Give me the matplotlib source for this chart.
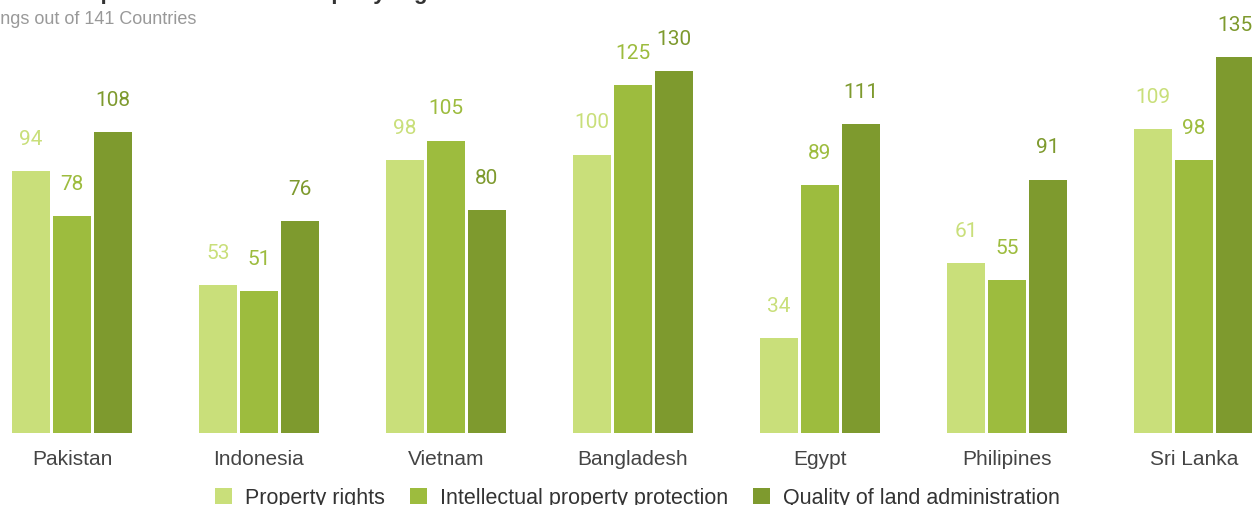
# ==========================================================
# PROPERTY RIGHTS RANKINGS - GROUPED BAR CHART
# ==========================================================

import numpy as np
import matplotlib.pyplot as plt
from matplotlib.patches import Patch

# ==========================================================
# DATA
# ==========================================================

countries = ["Pakistan", "Indonesia", "Vietnam", "Bangladesh",
             "Egypt", "Philipines", "Sri Lanka"]

property_rights = [94, 53, 98, 100, 34, 61, 109]
ip_protection = [78, 51, 105, 125, 89, 55, 98]
land_admin = [108, 76, 80, 130, 111, 91, 135]

series_names = ["Property rights",
                "Intellectual property protection",
                "Quality of land administration"]

TITLE = "Pakistan Compared to Peers on Property Rights"
SUBTITLE = "Rankings out of 141 Countries"

# ==========================================================
# STYLE
# ==========================================================

COLORS = ["#C9DF7A", "#9DBC3E", "#7E9A2E"]

W, H = 1252, 506
BAR_W = 0.203
STEP = 0.219

plt.rcParams["font.family"] = ["Liberation Sans", "DejaVu Sans"]

fig = plt.figure(figsize=(W / 100, H / 100), dpi=100)

# plot area runs edge to edge, baseline at 434 px
ax = fig.add_axes([0, 1 - 434 / H, 1, 434 / H])

x = np.arange(len(countries))
all_series = [property_rights, ip_protection, land_admin]

for i, (vals, col) in enumerate(zip(all_series, COLORS)):
    pos = x + (i - 1) * STEP
    ax.bar(pos, vals, width=BAR_W, color=col, linewidth=0)
    for px, v in zip(pos, vals):
        ax.annotate(str(v), (px, v), xytext=(0, 19.5),
                    textcoords="offset points", ha="center", va="baseline",
                    fontsize=15, color=col, family=["Roboto", "DejaVu Sans"])

ax.set_xlim(-0.385, -0.385 + W / 187)
ax.set_ylim(0, 434 / 2.785)

ax.set_xticks(x)
ax.set_xticklabels(countries, fontsize=15, color="#444444")
ax.tick_params(axis="x", length=0, pad=11.5)
ax.set_yticks([])

for s in ax.spines.values():
    s.set_visible(False)

# ==========================================================
# TITLE / SUBTITLE
# ==========================================================

fig.text(-46 / W, 1 + 1 / H, TITLE, fontsize=16, fontweight="bold",
         color="#333333", ha="left", va="baseline")

fig.text(196 / W, 1 - 24 / H, SUBTITLE, fontsize=13, color="#999999",
         ha="right", va="baseline")

# ==========================================================
# LEGEND
# ==========================================================

handles = [Patch(facecolor=c, edgecolor="none", label=n)
           for c, n in zip(COLORS, series_names)]

fig.legend(handles=handles, loc="center", ncol=3,
           bbox_to_anchor=(637.5 / W, 1 - 499 / H),
           frameon=False, fontsize=15.5, labelcolor="#333333",
           handlelength=0.8, handleheight=0.8,
           handletextpad=0.6, columnspacing=1.15, borderpad=0)

fig.savefig("out.png", dpi=100)
